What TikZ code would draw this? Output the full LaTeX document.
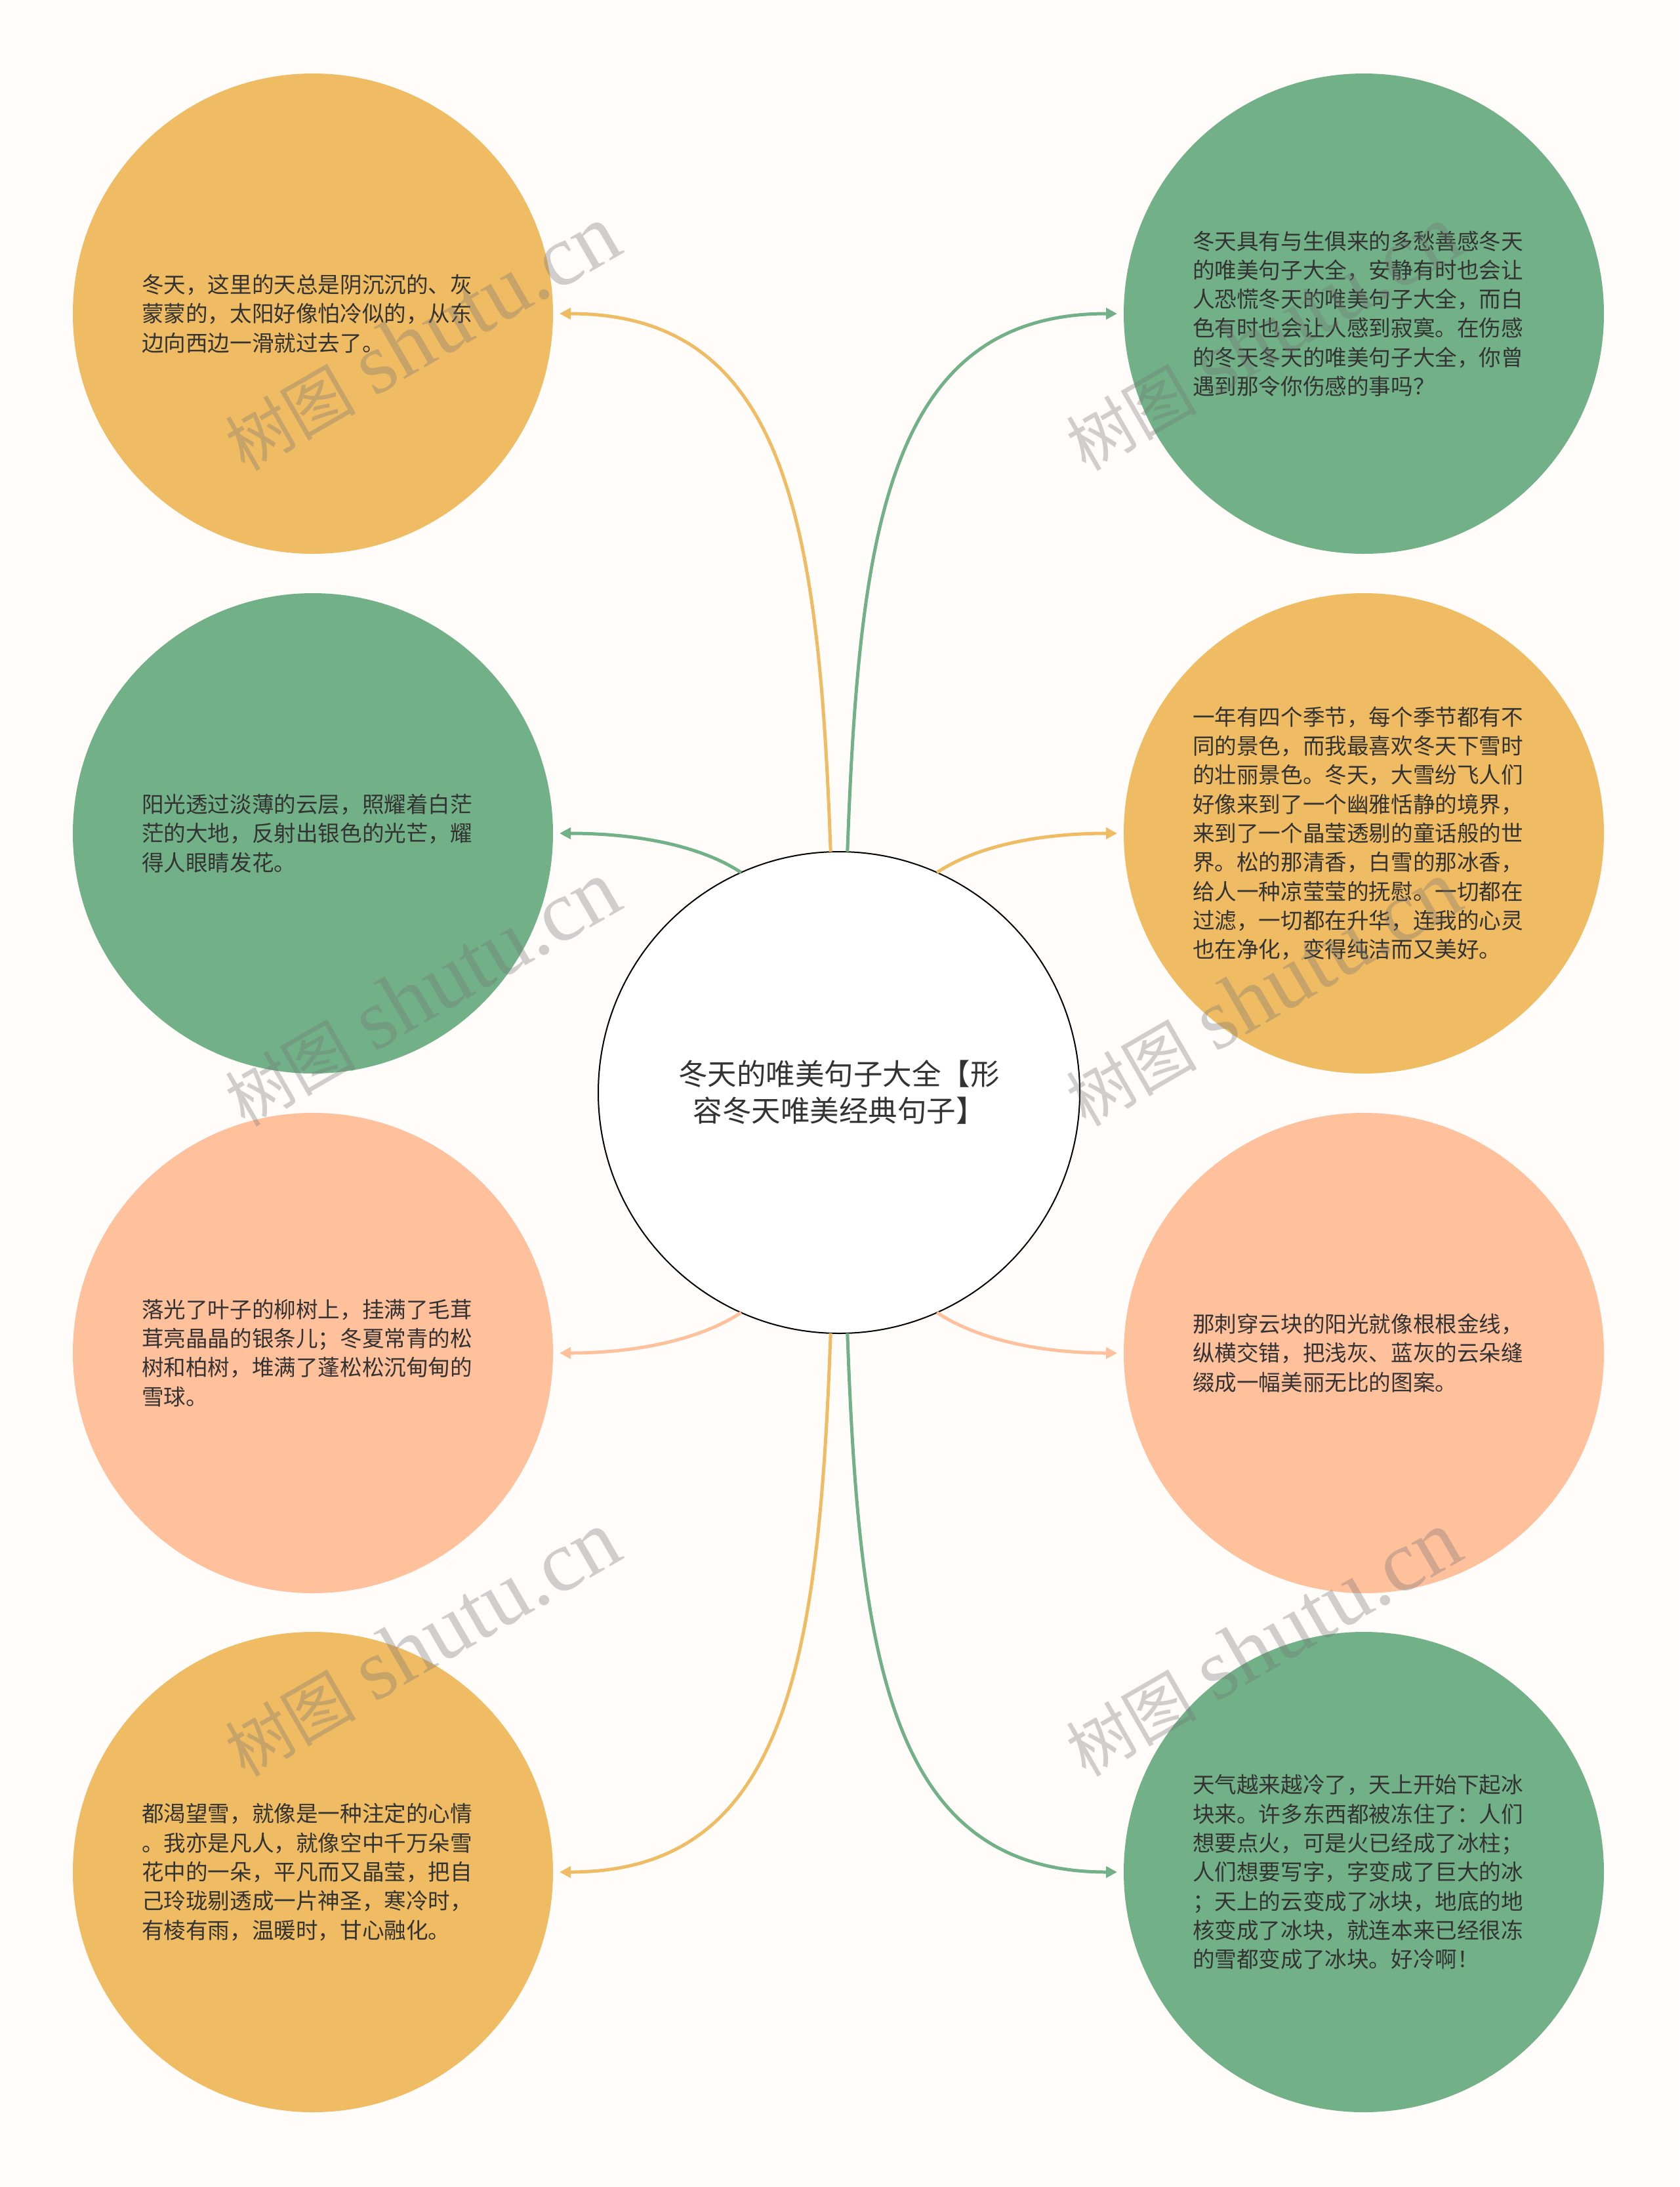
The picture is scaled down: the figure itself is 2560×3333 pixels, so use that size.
\documentclass[tikz,border=0pt]{standalone}
\usepackage{fontspec}
\newfontfamily\cjk{Noto Sans CJK SC}
\newfontfamily\wmserif{Liberation Serif}
\usetikzlibrary{arrows.meta}
\definecolor{bg}{RGB}{255,252,250}
\definecolor{cyel}{RGB}{239,188,99}
\definecolor{cgrn}{RGB}{114,177,135}
\definecolor{csal}{RGB}{255,192,156}
\definecolor{txt}{RGB}{51,51,51}
\begin{document}
\begin{tikzpicture}[x=1pt,y=-1pt,
  bubble/.style={circle,minimum size=732pt,inner sep=0pt,outer sep=0pt,text width=522pt,align=left,
    font=\cjk\fontsize{33.6}{44.3}\selectfont,text=txt},
  hub/.style={circle,minimum size=734pt,inner sep=0pt,outer sep=0pt,draw=black,line width=2pt,fill=white,
    align=center,font=\cjk\fontsize{44.5}{56}\selectfont,text=txt},
  link/.style={line width=5pt,-{Triangle[length=17pt,width=17pt]}},
  wm/.style={rotate=30,text=black!55,text opacity=0.33,inner sep=0pt}]
\useasboundingbox (0,0) rectangle (2560,3333);
\fill[bg] (0,0) rectangle (2560,3333);

\node[hub] (C) at (1279,1665) {冬天的唯美句子大全【形\\容冬天唯美经典句子】};

\node[bubble,fill=cyel] (L1) at (477,478) {冬天，这里的天总是阴沉沉的、灰\\蒙蒙的，太阳好像怕冷似的，从东\\边向西边一滑就过去了。};
\node[bubble,fill=cgrn] (L2) at (477,1270) {阳光透过淡薄的云层，照耀着白茫\\茫的大地，反射出银色的光芒，耀\\得人眼睛发花。};
\node[bubble,fill=csal] (L3) at (477,2062) {落光了叶子的柳树上，挂满了毛茸\\茸亮晶晶的银条儿；冬夏常青的松\\树和柏树，堆满了蓬松松沉甸甸的\\雪球。};
\node[bubble,fill=cyel] (L4) at (477,2853) {都渴望雪，就像是一种注定的心情\\。我亦是凡人，就像空中千万朵雪\\花中的一朵，平凡而又晶莹，把自\\己玲珑剔透成一片神圣，寒冷时，\\有棱有雨，温暖时，甘心融化。};

\node[bubble,fill=cgrn] (R1) at (2079,478) {冬天具有与生俱来的多愁善感冬天\\的唯美句子大全，安静有时也会让\\人恐慌冬天的唯美句子大全，而白\\色有时也会让人感到寂寞。在伤感\\的冬天冬天的唯美句子大全，你曾\\遇到那令你伤感的事吗？};
\node[bubble,fill=cyel] (R2) at (2079,1270) {一年有四个季节，每个季节都有不\\同的景色，而我最喜欢冬天下雪时\\的壮丽景色。冬天，大雪纷飞人们\\好像来到了一个幽雅恬静的境界，\\来到了一个晶莹透剔的童话般的世\\界。松的那清香，白雪的那冰香，\\给人一种凉莹莹的抚慰。一切都在\\过滤，一切都在升华，连我的心灵\\也在净化，变得纯洁而又美好。};
\node[bubble,fill=csal] (R3) at (2079,2062) {那刺穿云块的阳光就像根根金线，\\纵横交错，把浅灰、蓝灰的云朵缝\\缀成一幅美丽无比的图案。};
\node[bubble,fill=cgrn] (R4) at (2079,2853) {天气越来越冷了，天上开始下起冰\\块来。许多东西都被冻住了：人们\\想要点火，可是火已经成了冰柱；\\人们想要写字，字变成了巨大的冰\\；天上的云变成了冰块，地底的地\\核变成了冰块，就连本来已经很冻\\的雪都变成了冰块。好冷啊！};

\draw[link,cyel] (C.92) .. controls +(-18,-498) and +(347,0) .. ([xshift=10pt]L1.east);
\draw[link,cgrn] (C.114) .. controls +(-60,-40) and +(120,0) .. ([xshift=10pt]L2.east);
\draw[link,csal] (C.246) .. controls +(-60,40) and +(120,0) .. ([xshift=10pt]L3.east);
\draw[link,cyel] (C.268) .. controls +(-18,498) and +(347,0) .. ([xshift=10pt]L4.east);
\draw[link,cgrn] (C.88) .. controls +(18,-498) and +(-347,0) .. ([xshift=-10pt]R1.west);
\draw[link,cyel] (C.66) .. controls +(60,-40) and +(-120,0) .. ([xshift=-10pt]R2.west);
\draw[link,csal] (C.294) .. controls +(60,40) and +(-120,0) .. ([xshift=-10pt]R3.west);
\draw[link,cgrn] (C.272) .. controls +(18,498) and +(-347,0) .. ([xshift=-10pt]R4.west);

\foreach \i/\px/\py in {1/643/515,2/643/1514,3/643/2505,4/1925/515,5/1925/1514,6/1925/2505}{
  \node[wm] (wm\i) at (\px,\py) {{\cjk\fontsize{100}{100}\selectfont 树图}\hspace{28pt}{\wmserif\fontsize{132}{132}\selectfont shutu.cn}};
}
\end{tikzpicture}
\end{document}
